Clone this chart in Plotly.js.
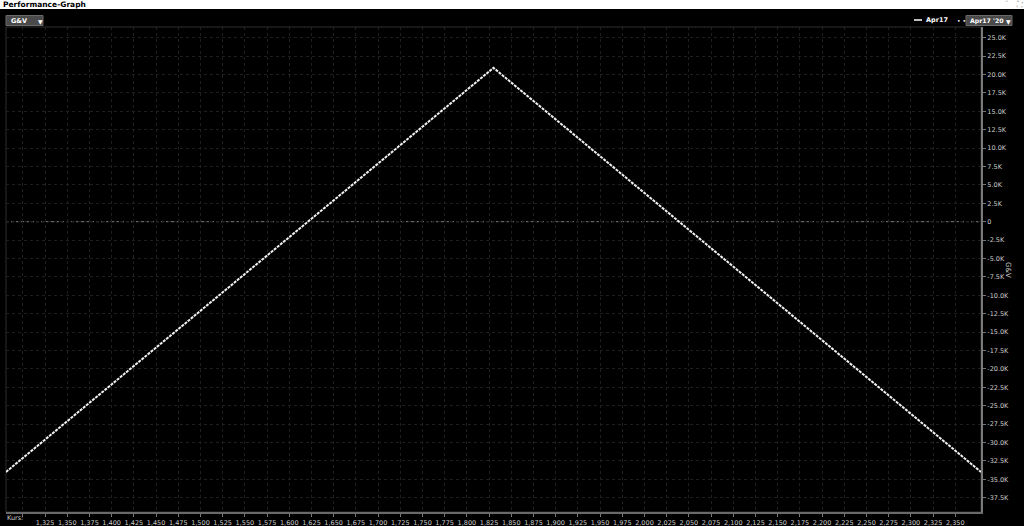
<!DOCTYPE html>
<html>
<head>
<meta charset="utf-8">
<script src="https://cdn.plot.ly/plotly-3.0.1.min.js"></script>
<style>
  html, body { margin: 0; padding: 0; background: #000; }
  #chart { width: 1024px; height: 526px; }
</style>
</head>
<body>
<div id="chart"></div>
<script>
// Kurs (underlying price) vs. G&V (profit / loss)
var kurs = [1281, 1830, 2379];
var gv = [-34000, 20900, -34000];

var xTickLabels = ['', '1,325', '1,350', '1,375', '1,400', '1,425', '1,450', '1,475', '1,500',
  '1,525', '1,550', '1,575', '1,600', '1,625', '1,650', '1,675', '1,700', '1,725', '1,750',
  '1,775', '1,800', '1,825', '1,850', '1,875', '1,900', '1,925', '1,950', '1,975', '2,000',
  '2,025', '2,050', '2,075', '2,100', '2,125', '2,150', '2,175', '2,200', '2,225', '2,250',
  '2,275', '2,300', '2,325', '2,350'];
var xTickVals = [1300].concat(xTickLabels.slice(1).map(function (s) {
  return Number(s.replace(',', ''));
}));

var yTickLabels = ['25.0K', '22.5K', '20.0K', '17.5K', '15.0K', '12.5K', '10.0K', '7.5K',
  '5.0K', '2.5K', '0', '-2.5K', '-5.0K', '-7.5K', '-10.0K', '-12.5K', '-15.0K', '-17.5K',
  '-20.0K', '-22.5K', '-25.0K', '-27.5K', '-30.0K', '-32.5K', '-35.0K', '-37.5K'];
var yTickVals = yTickLabels.map(function (s) {
  return Math.round(parseFloat(s) * (s.indexOf('K') >= 0 ? 1000 : 1));
});

// plot area in pixels: x 6..981, y 27..512
var PL = 6, PR = 981, PT = 27, PB = 512;
function px(x) { return (x - PL) / (PR - PL); }
function py(y) { return (PB - y) / (PB - PT); }

var FONT = 'DejaVu Sans, Verdana, sans-serif';

var trace = {
  x: kurs,
  y: gv,
  type: 'scatter',
  mode: 'lines',
  line: { color: '#f2f2f2', width: 2, dash: '3px,1px' },
  hoverinfo: 'skip',
  showlegend: false
};

var shapes = [
  // header bar
  { type: 'rect', xref: 'paper', yref: 'paper', x0: px(0), x1: px(1024), y0: py(0), y1: py(9),
    fillcolor: '#ffffff', line: { width: 0 }, layer: 'above' },
  // plot frame
  { type: 'rect', xref: 'paper', yref: 'paper', x0: 0, x1: 1, y0: 0, y1: 1,
    line: { color: '#2e2e2e', width: 1 }, layer: 'below' },
  // zero line
  { type: 'line', xref: 'paper', yref: 'y', x0: 0, x1: 1, y0: 0, y1: 0,
    line: { color: '#7a7a7a', width: 1, dash: '3px,2px' }, layer: 'below' },
  // G&V dropdown
  { type: 'rect', xref: 'paper', yref: 'paper', x0: px(6), x1: px(43), y0: py(25.5), y1: py(15.5),
    fillcolor: '#4a4a4a', line: { color: '#6a6a6a', width: 1 } },
  // Apr17 '20 dropdown
  { type: 'rect', xref: 'paper', yref: 'paper', x0: px(966), x1: px(1012), y0: py(25.5), y1: py(15.5),
    fillcolor: '#4a4a4a', line: { color: '#6a6a6a', width: 1 } },
  // legend line sample
  { type: 'line', xref: 'paper', yref: 'paper', x0: px(914), x1: px(922), y0: py(20), y1: py(20),
    line: { color: '#ffffff', width: 1.5 } }
];

function note(x, y, text, opts) {
  var a = {
    xref: 'paper', yref: 'paper', x: px(x), y: py(y), text: text, showarrow: false,
    xanchor: 'left', yanchor: 'middle',
    font: { family: FONT, size: 7, color: '#dddddd' }
  };
  for (var k in (opts || {})) a[k] = opts[k];
  return a;
}

var annotations = [
  note(1, 4.5, '<b>Performance-Graph</b>', { font: { family: FONT, size: 7.5, color: '#000000' } }),
  note(1003, 4.5, '˅', { font: { family: FONT, size: 7, color: '#999999' } }),
  note(1014, 4.5, '⛶', { font: { family: FONT, size: 8, color: '#999999' } }),
  note(9, 20.5, '<b>G&V</b>', { font: { family: FONT, size: 6.5, color: '#ffffff' } }),
  note(36, 21, '▼', { font: { family: FONT, size: 6, color: '#ffffff' } }),
  note(924, 20, '<b>Apr17</b>', { font: { family: FONT, size: 6.5, color: '#ffffff' } }),
  note(955, 20, '• •', { font: { family: FONT, size: 6, color: '#ffffff' } }),
  note(968, 20.5, "<b>Apr17 '20</b>", { font: { family: FONT, size: 6.2, color: '#ffffff' } }),
  note(1004, 21, '▼', { font: { family: FONT, size: 6, color: '#ffffff' } }),
  note(5, 518, 'Kurs:', { font: { family: FONT, size: 6.5, color: '#cccccc' } }),
  note(1008, 270, 'G&V', { xanchor: 'center', textangle: 90,
    font: { family: FONT, size: 7, color: '#cccccc' } })
];

var layout = {
  width: 1024,
  height: 526,
  paper_bgcolor: '#000000',
  plot_bgcolor: '#000000',
  margin: { l: PL, r: 1024 - PR, t: PT, b: 526 - PB, pad: 0 },
  font: { family: FONT, size: 7, color: '#cccccc' },
  showlegend: false,
  xaxis: {
    range: [1281, 2379],
    tickvals: xTickVals,
    ticktext: xTickLabels,
    tickangle: 0,
    ticks: 'outside',
    ticklen: 3,
    tickcolor: '#777777',
    tickfont: { family: FONT, size: 6.5, color: '#cccccc' },
    showline: true,
    linecolor: '#6a6a6a',
    linewidth: 2,
    showgrid: true,
    gridcolor: '#1f1f1f',
    griddash: 'dot',
    zeroline: false,
    fixedrange: true
  },
  yaxis: {
    side: 'right',
    range: [-39440, 26450],
    tickvals: yTickVals,
    ticktext: yTickLabels,
    ticks: 'outside',
    ticklen: 3,
    tickcolor: '#777777',
    tickfont: { family: FONT, size: 6.5, color: '#cccccc' },
    showline: true,
    linecolor: '#7a7a7a',
    linewidth: 2,
    showgrid: true,
    gridcolor: '#1f1f1f',
    griddash: 'dot',
    zeroline: false,
    fixedrange: true
  },
  shapes: shapes,
  annotations: annotations
};

Plotly.newPlot('chart', [trace], layout, { displayModeBar: false, staticPlot: true });
</script>
</body>
</html>
